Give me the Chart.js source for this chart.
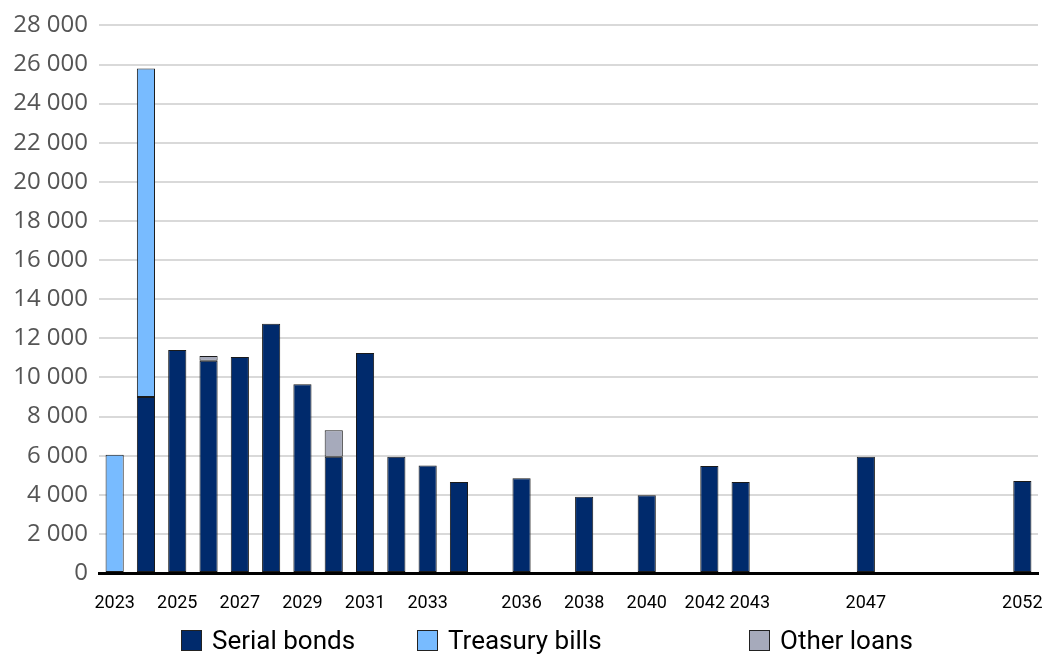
<!DOCTYPE html>
<html>
<head>
<meta charset="utf-8">
<script src="https://cdn.jsdelivr.net/npm/chart.js@4/dist/chart.umd.min.js"></script>
<style>
  html, body { margin: 0; padding: 0; background: #fff; }
  #wrap { position: relative; width: 1045px; height: 656px; }
  #box { position: absolute; left: 0; top: 0; width: 1045px; height: 656px; }
  #legend {
    position: absolute; top: 624px; left: 0; width: 1045px; height: 32px;
    font-family: Roboto, sans-serif;
    font-size: 26px; color: #000;
  }
  .item { position: absolute; top: 0; display: flex; align-items: center; line-height: 32px; }
  .swatch { width: 21px; height: 21px; border: 1.5px solid #222; margin-right: 10px; box-sizing: border-box; }
</style>
</head>
<body>
<div id="wrap">
  <div id="box"><canvas id="debtChart"></canvas></div>
  <div id="legend"></div>
</div>
<script>
// maturity years
const years = [
  '2023', '2024', '2025', '2026', '2027', '2028', '2029', '2030', '2031', '2032',
  '2033', '2034', '2035', '2036', '2037', '2038', '2039', '2040', '2041', '2042',
  '2043', '2044', '2045', '2046', '2047', '2048', '2049', '2050', '2051', '2052'
];

// only these years get a label under the axis
const shownYears = ['2023', '2025', '2027', '2029', '2031', '2033', '2036', '2038',
  '2040', '2042', '2043', '2047', '2052'];

const serialBonds = [
  null, 9000, 11400, 10850, 11050, 12750, 9650, 5950, 11250, 5950,
  5500, 4650, null, 4850, null, 3900, null, 3980, null, 5470,
  4650, null, null, null, 5950, null, null, null, null, 4700
];

const treasuryBills = [
  6050, 16800, null, null, null, null, null, null, null, null,
  null, null, null, null, null, null, null, null, null, null,
  null, null, null, null, null, null, null, null, null, null
];

const otherLoans = [
  null, null, null, 250, null, null, null, 1350, null, null,
  null, null, null, null, null, null, null, null, null, null,
  null, null, null, null, null, null, null, null, null, null
];

const yTicks = { min: 0, max: 28000, step: 2000 };

const colors = {
  serial: '#002a6c',
  bills: '#78bbff',
  other: '#a6aabb'
};

const seriesList = [
  { label: 'Serial bonds', data: serialBonds, color: colors.serial },
  { label: 'Treasury bills', data: treasuryBills, color: colors.bills },
  { label: 'Other loans', data: otherLoans, color: colors.other }
];

// neighbouring labels 2042/2043 are nudged apart with padding spaces
const EN = '\u2002';
function yearText(y) {
  if (y === '2042') return y + EN;
  if (y === '2043') return EN + EN + y;
  return y;
}

const ctx = document.getElementById('debtChart').getContext('2d');
const myChart = new Chart(ctx, {
  type: 'bar',
  data: {
    labels: years,
    datasets: seriesList.map(s => ({
      label: s.label,
      data: s.data,
      backgroundColor: s.color,
      borderColor: '#1a1a1a',
      borderWidth: 1,
      borderSkipped: false,
      categoryPercentage: 1,
      barPercentage: 0.58
    }))
  },
  options: {
    responsive: true,
    maintainAspectRatio: false,
    animation: false,
    layout: { padding: { top: 22, right: 7, bottom: 0, left: 0 } },
    plugins: {
      legend: { display: false },
      tooltip: { enabled: false }
    },
    scales: {
      x: {
        stacked: true,
        z: 1,
        grid: { display: false },
        border: { display: true, color: '#000', width: 3 },
        afterFit: scale => {
          scale.height = 83;
          scale.paddingLeft = 0;
          scale.paddingRight = 0;
        },
        ticks: {
          autoSkip: false,
          maxRotation: 0,
          padding: 12,
          color: '#000',
          font: { family: 'Roboto, sans-serif', size: 18 },
          callback: function (value) {
            const y = this.getLabelForValue(value);
            return shownYears.includes(y) ? yearText(y) : '';
          }
        }
      },
      y: {
        stacked: true,
        min: yTicks.min,
        max: yTicks.max,
        afterFit: scale => { scale.width = 99; },
        border: { display: false },
        grid: { color: '#d9d9d9', lineWidth: 2, drawTicks: false },
        ticks: {
          stepSize: yTicks.step,
          padding: 11,
          color: '#555',
          font: { family: '"Open Sans", sans-serif', size: 24 },
          callback: v => String(v).replace(/\B(?=(\d{3})+(?!\d))/g, ' ')
        }
      }
    }
  }
});

// legend row under the chart
const legendPos = [181, 417, 749];
const legend = document.getElementById('legend');
seriesList.forEach((s, i) => {
  const item = document.createElement('div');
  item.className = 'item';
  item.style.left = legendPos[i] + 'px';
  const sw = document.createElement('span');
  sw.className = 'swatch';
  sw.style.background = s.color;
  const txt = document.createElement('span');
  txt.textContent = s.label;
  item.appendChild(sw);
  item.appendChild(txt);
  legend.appendChild(item);
});
</script>
</body>
</html>
